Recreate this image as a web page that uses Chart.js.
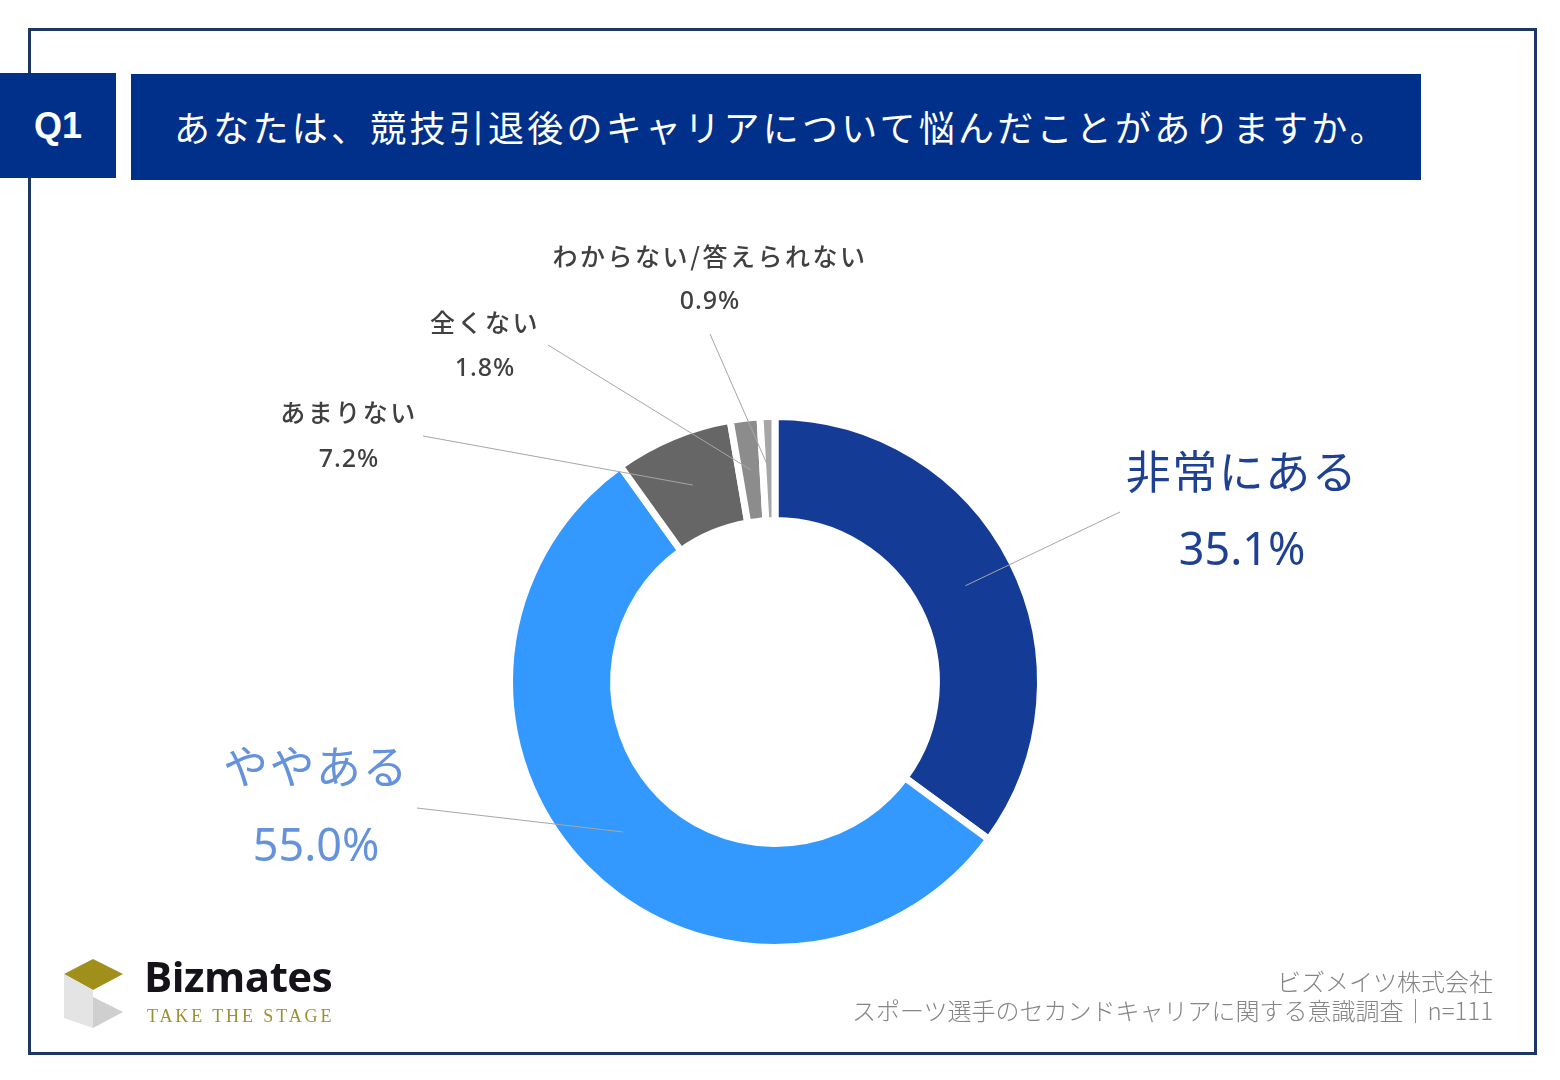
<!DOCTYPE html>
<html lang="ja">
<head>
<meta charset="utf-8">
<title>Q1 競技引退後のキャリア</title>
<script src="https://cdn.jsdelivr.net/npm/chart.js@4.4.1/dist/chart.umd.min.js"></script>
<style>
  body {
    margin: 0;
    width: 1560px;
    height: 1080px;
    background: #fff;
    position: relative;
    overflow: hidden;
    font-family: "Noto Sans CJK JP", "Noto Sans", sans-serif;
  }
  .frame {
    position: absolute;
    left: 28px; top: 28px;
    width: 1509px; height: 1027px;
    border: 3px solid #1c3764;
    box-sizing: border-box;
  }
  .q-box {
    position: absolute;
    left: 0; top: 73px;
    width: 116px; height: 105px;
    background: #00308a;
    color: #fff;
    font: bold 36px "Liberation Sans", Arial, sans-serif;
    display: flex; align-items: center; justify-content: center;
  }
  .title-box {
    position: absolute;
    left: 131px; top: 74px;
    width: 1290px; height: 106px;
    background: #00308a;
    color: #fff;
    font-size: 36px;
    letter-spacing: 3.25px;
    line-height: 104px;
    padding-left: 43px;
    box-sizing: border-box;
    white-space: nowrap;
  }
  #chart { position: absolute; left: 0; top: 0; }
  .logo { position: absolute; left: 63px; top: 959px; }
  .brand {
    position: absolute;
    left: 144px; top: 947px;
    font: bold 42px "Open Sans", sans-serif;
    color: #15121a;
    letter-spacing: -0.5px;
  }
  .tagline {
    position: absolute;
    left: 147px; top: 1006px;
    font: 18px "Liberation Serif", serif;
    color: #9d9030;
    letter-spacing: 2.9px;
  }
  .footer {
    position: absolute;
    right: 67px; top: 966px;
    text-align: right;
    color: #858585;
    font-size: 24px;
    font-weight: 300;
    line-height: 29px;
    white-space: nowrap;
  }
</style>
</head>
<body>
<div class="frame"></div>
<div class="q-box">Q1</div>
<div class="title-box">あなたは、競技引退後のキャリアについて悩んだことがありますか。</div>

<canvas id="chart" width="1560" height="1080"></canvas>

<svg class="logo" width="62" height="70" viewBox="0 0 62 70">
  <polygon points="1,15 30,0 60,15 30,31" fill="#a08f1a"/>
  <polygon points="1,15 30,31 30,69 1,59" fill="#e4e4e4"/>
  <polygon points="30,38 60,53 30,69" fill="#cfcfcf"/>
</svg>
<div class="brand">Bizmates</div>
<div class="tagline">TAKE THE STAGE</div>

<div class="footer">ビズメイツ株式会社<br>スポーツ選手のセカンドキャリアに関する意識調査｜n=111</div>

<script>
document.addEventListener('DOMContentLoaded', function () {

    // 回答カテゴリと割合（%）
    const categories = ['非常にある', 'ややある', 'あまりない', '全くない', 'わからない/答えられない'];
    const percentages = [35.1, 55.0, 7.2, 1.8, 0.9];
    const sliceColors = ['#143c96', '#3399ff', '#666666', '#8c8c8c', '#a6a6a6'];

    // ラベルの配置（テキスト位置と引き出し線の起点）
    const labelLayout = [
        { x: 1242, y1: 472, y2: 552, size: 45, color: '#1f4193', lineFrom: [1120, 512] },
        { x: 316, y1: 767, y2: 848, size: 45, color: '#6592dc', lineFrom: [417, 808] },
        { x: 349, y1: 412, y2: 460, size: 25, color: '#404040', lineFrom: [423, 436] },
        { x: 485, y1: 322, y2: 369, size: 25, color: '#404040', lineFrom: [548, 345] },
        { x: 710, y1: 256, y2: 302, size: 25, color: '#404040', lineFrom: [710, 334] }
    ];

    // 引き出し線とラベルを描くプラグイン
    const labelPlugin = {
        id: 'calloutLabels',
        afterDraw(chart) {
            const ctx = chart.ctx;
            const arcs = chart.getDatasetMeta(0).data;
            ctx.save();

            arcs.forEach((arc, i) => {
                const lay = labelLayout[i];
                const p = arc.tooltipPosition();
                ctx.strokeStyle = '#a6a6a6';
                ctx.lineWidth = 1;
                ctx.beginPath();
                ctx.moveTo(lay.lineFrom[0], lay.lineFrom[1]);
                ctx.lineTo(p.x, p.y);
                ctx.stroke();
            });

            ctx.textAlign = 'center';
            ctx.textBaseline = 'middle';
            labelLayout.forEach((lay, i) => {
                const big = lay.size > 30;
                const weight = big ? '400' : '500';
                ctx.fillStyle = lay.color;
                ctx.font = weight + ' ' + lay.size + 'px "Noto Sans CJK JP", "Noto Sans", sans-serif';
                ctx.letterSpacing = big ? '1.5px' : '2.5px';
                ctx.fillText(categories[i], lay.x, lay.y1);
                ctx.font = weight + ' ' + lay.size + 'px "Noto Sans", "Noto Sans CJK JP", sans-serif';
                ctx.letterSpacing = big ? '0px' : '1px';
                ctx.fillText(percentages[i].toFixed(1) + '%', lay.x, lay.y2);
            });

            ctx.restore();
        }
    };

    const ctx = document.getElementById('chart').getContext('2d');
    window.q1Chart = new Chart(ctx, {
        type: 'doughnut',
        data: {
            labels: categories,
            datasets: [{
                data: percentages,
                backgroundColor: sliceColors,
                borderColor: '#ffffff',
                borderWidth: 7
            }]
        },
        options: {
            responsive: false,
            animation: false,
            radius: 265.5,
            cutout: '60.8%',
            layout: {
                padding: { left: 475, right: 485, top: 382, bottom: 98 }
            },
            plugins: {
                legend: { display: false },
                tooltip: { enabled: false }
            }
        },
        plugins: [labelPlugin]
    });

});
</script>
</body>
</html>
